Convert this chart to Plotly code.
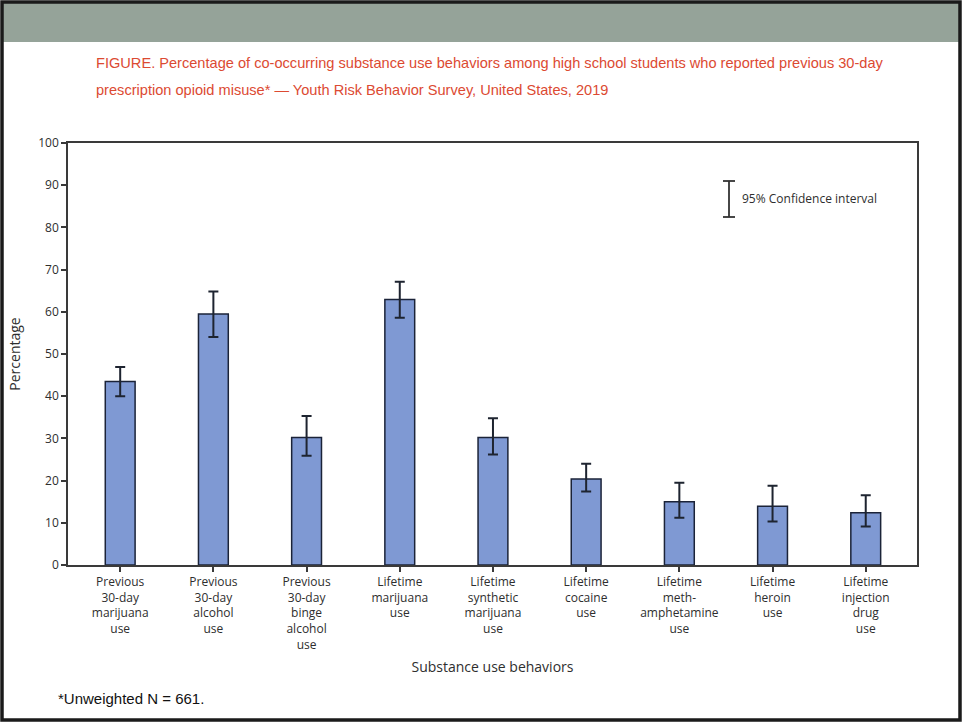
import plotly.graph_objects as go

# data
behaviors = [
    "Previous<br>30-day<br>marijuana<br>use",
    "Previous<br>30-day<br>alcohol<br>use",
    "Previous<br>30-day<br>binge<br>alcohol<br>use",
    "Lifetime<br>marijuana<br>use",
    "Lifetime<br>synthetic<br>marijuana<br>use",
    "Lifetime<br>cocaine<br>use",
    "Lifetime<br>meth-<br>amphetamine<br>use",
    "Lifetime<br>heroin<br>use",
    "Lifetime<br>injection<br>drug<br>use",
]
percent = [43.5, 59.5, 30.2, 62.9, 30.2, 20.4, 15.0, 13.9, 12.4]
ci_upper = [46.9, 64.8, 35.3, 67.1, 34.8, 24.0, 19.5, 18.8, 16.5]
ci_lower = [40.0, 54.0, 25.9, 58.6, 26.2, 17.4, 11.2, 10.3, 9.1]
y_ticks = list(range(0, 101, 10))

W, H = 965, 724
L, R, T, B = 68, 917, 143, 565  # plot area in pixels


def px(x):
    return (x - L) / (R - L)


def py(y):
    return (B - y) / (B - T)


err_plus = [u - v for u, v in zip(ci_upper, percent)]
err_minus = [v - lo for v, lo in zip(percent, ci_lower)]

fig = go.Figure()

fig.add_trace(go.Bar(
    x=list(range(len(behaviors))),
    y=percent,
    width=0.32,
    marker=dict(color='#7F99D3', line=dict(color='#1B2338', width=1.5)),
    error_y=dict(type='data', array=err_plus, arrayminus=err_minus,
                 color='#1E2430', thickness=2, width=5),
    showlegend=False,
    hoverinfo='y',
))

sans = 'Open Sans, Noto Sans, sans-serif'
axis_font = dict(family=sans, size=12, color='#2E2E2E')

fig.update_layout(
    width=W, height=H,
    margin=dict(l=L, r=W - R, t=T, b=H - B),
    paper_bgcolor='white',
    plot_bgcolor='white',
    xaxis=dict(
        range=[-0.56, 8.55],
        tickmode='array',
        tickvals=list(range(len(behaviors))),
        ticktext=behaviors,
        tickfont=axis_font,
        showline=True, mirror=True, linecolor='#3A3A3A', linewidth=1.5,
        ticks='outside', ticklen=5, tickcolor='#3A3A3A', tickwidth=1.5,
        showgrid=False, zeroline=False,
        title=dict(text='Substance use behaviors',
                   font=dict(family=sans, size=14, color='#2E2E2E'),
                   standoff=11),
    ),
    yaxis=dict(
        range=[0, 100],
        tickvals=y_ticks,
        tickfont=axis_font,
        showline=True, mirror=True, linecolor='#3A3A3A', linewidth=1.5,
        ticks='outside', ticklen=5, tickcolor='#3A3A3A', tickwidth=1.5,
        showgrid=False, zeroline=False,
        title=dict(text='Percentage',
                   font=dict(family=sans, size=14, color='#2E2E2E'),
                   standoff=14),
    ),
    font=dict(family=sans),
)

# page frame and grey header band
fig.add_shape(type='rect', xref='paper', yref='paper',
              x0=px(3), x1=px(960), y0=py(3), y1=py(42),
              fillcolor='#95A399', line=dict(width=0), layer='below')
fig.add_shape(type='rect', xref='paper', yref='paper',
              x0=px(2), x1=px(960), y0=py(2), y1=py(720),
              line=dict(color='#1A1A1A', width=3.5))

# confidence interval key
kx = px(729)
cap = 6 / (R - L)
for y0, y1, xa, xb in [(py(181), py(217), kx, kx),
                       (py(181), py(181), kx - cap, kx + cap),
                       (py(217), py(217), kx - cap, kx + cap)]:
    fig.add_shape(type='line', xref='paper', yref='paper',
                  x0=xa, x1=xb, y0=y0, y1=y1,
                  line=dict(color='#333333', width=1.8))

title_font = dict(family='Liberation Sans Narrow, Arial Narrow, Liberation Sans, sans-serif',
                  size=14.6, color='#DC4A32')
annotations = [
    dict(text='95% Confidence interval', x=px(740), y=py(198),
         font=dict(family=sans, size=12, color='#2E2E2E')),
    dict(text='FIGURE. Percentage of co-occurring substance use behaviors among high school '
              'students who reported previous 30-day',
         x=px(94), y=py(63), font=title_font),
    dict(text='prescription opioid misuse* \u2014 Youth Risk Behavior Survey, United States, 2019',
         x=px(94), y=py(90), font=title_font),
    dict(text='*Unweighted N = 661.', x=px(56), y=py(698),
         font=dict(family='Liberation Sans, Arial, sans-serif', size=15, color='#111111')),
]
for a in annotations:
    fig.add_annotation(xref='paper', yref='paper', xanchor='left', yanchor='middle',
                       showarrow=False, **a)

# drop the default body margin so the figure fills the window
fig.write_html("out.html",
               config={'displayModeBar': False},
               post_script="document.body.style.margin='0';document.body.style.overflow='hidden';")
